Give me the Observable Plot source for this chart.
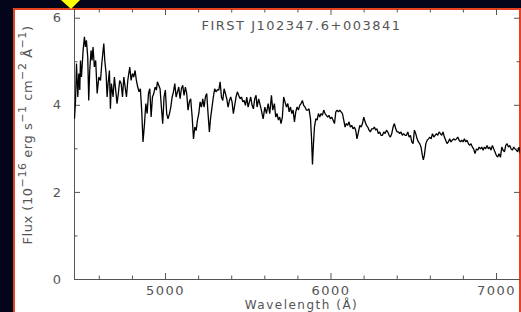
<!DOCTYPE html>
<html><head><meta charset="utf-8">
<script src="https://cdn.jsdelivr.net/npm/d3@7"></script>
<script src="https://cdn.jsdelivr.net/npm/@observablehq/plot@0.6"></script>
<style>
html,body{margin:0;padding:0;background:#04041a;}
#wrap{position:relative;width:521px;height:312px;overflow:hidden;background:#04041a;}
#panel{position:absolute;left:13px;top:8px;width:508px;height:310px;box-sizing:border-box;background:#fff;border:2px solid #e8411f;border-bottom:none;}
#chart{position:absolute;left:0;top:0;}
#marker{position:absolute;left:61px;top:0;width:0;height:0;border-left:10px solid transparent;border-right:9px solid transparent;border-top:9px solid #ffff00;}
</style></head>
<body>
<div id="wrap"><div id="panel"></div><div id="chart"></div><div id="marker"></div></div>
<script>
const title = "FIRST J102347.6+003841";
const xLabel = "Wavelength (Å)";
const xMajor = [5000, 6000, 7000];
const xMinor = [4600, 4800, 5200, 5400, 5600, 5800, 6200, 6400, 6600, 6800];
const yMajor = [0, 2, 4, 6];
const yMinor = [1, 3, 5];
const xDomain = [4450, 7145];
const yDomain = [0, 6.2];
// [wavelength (Å), flux (1e-16 erg/s/cm2/Å)]
const spectrum = [
[4450,3.70],[4456,4.08],[4462,4.96],[4470,4.19],[4476,4.73],[4482,4.35],[4486,5.03],[4492,4.65],[4502,5.26],[4510,5.57],
[4516,5.34],[4522,5.49],[4530,5.11],[4536,4.11],[4542,4.80],[4550,5.26],[4556,5.03],[4562,5.34],[4570,4.88],[4578,5.03],
[4587,4.27],[4597,4.65],[4607,4.57],[4615,4.96],[4621,5.19],[4627,5.42],[4633,5.03],[4641,4.73],[4647,4.19],[4653,4.50],
[4661,4.80],[4667,3.92],[4673,4.50],[4683,4.19],[4691,4.65],[4699,4.35],[4707,4.04],[4715,4.27],[4723,4.57],[4732,4.50],
[4740,4.19],[4748,4.65],[4756,4.42],[4764,4.19],[4772,4.57],[4778,4.73],[4784,4.88],[4792,4.57],[4800,4.73],[4808,4.65],
[4816,4.80],[4824,4.57],[4832,4.42],[4840,4.31],[4848,4.38],[4856,3.89],[4864,3.16],[4873,3.58],[4881,4.04],[4889,3.81],
[4897,4.27],[4905,4.38],[4913,3.73],[4921,4.19],[4929,4.27],[4937,4.42],[4945,4.35],[4951,4.54],[4959,4.46],[4967,4.38],
[4975,3.96],[4983,3.58],[4991,4.19],[4999,4.35],[5007,3.81],[5015,3.69],[5024,3.81],[5032,3.96],[5040,4.19],[5048,4.31],
[5056,4.50],[5064,4.19],[5072,4.31],[5080,4.42],[5088,4.15],[5096,4.38],[5104,4.46],[5112,4.23],[5120,4.42],[5128,4.27],
[5136,3.89],[5144,4.08],[5152,4.15],[5161,3.73],[5169,3.23],[5177,3.50],[5185,3.42],[5193,3.66],[5201,3.81],[5209,4.08],
[5217,3.96],[5225,4.15],[5233,3.96],[5241,4.19],[5249,4.27],[5257,3.81],[5265,3.39],[5273,3.73],[5281,3.96],[5289,4.19],
[5297,4.38],[5305,4.31],[5314,4.36],[5322,4.35],[5330,4.54],[5338,4.19],[5346,4.11],[5354,4.38],[5362,4.27],[5370,4.15],
[5378,3.96],[5386,4.11],[5394,4.19],[5402,4.08],[5410,3.81],[5418,4.00],[5426,4.19],[5434,4.31],[5442,4.23],[5451,4.15],
[5459,4.19],[5467,4.08],[5475,4.11],[5483,4.00],[5491,4.19],[5499,3.96],[5507,4.08],[5515,4.19],[5523,4.00],[5531,3.92],
[5539,4.15],[5547,4.23],[5553,3.96],[5563,4.15],[5579,3.89],[5590,3.69],[5600,3.96],[5610,3.81],[5620,4.04],[5630,3.81],
[5640,4.23],[5648,3.89],[5658,4.04],[5666,3.73],[5674,3.81],[5682,3.66],[5690,3.73],[5698,3.58],[5706,3.73],[5714,4.19],
[5722,4.08],[5731,3.96],[5739,4.04],[5747,3.85],[5755,3.96],[5763,3.81],[5771,3.89],[5779,3.62],[5787,3.85],[5795,3.96],
[5803,3.89],[5811,4.00],[5819,4.04],[5827,4.11],[5835,4.00],[5843,3.96],[5851,3.89],[5859,3.89],[5867,3.92],[5876,3.69],
[5882,3.27],[5888,2.64],[5894,3.12],[5900,3.50],[5908,3.69],[5916,3.66],[5924,3.81],[5932,3.73],[5940,3.81],[5948,3.77],
[5956,3.89],[5964,3.81],[5972,3.77],[5980,3.73],[5988,3.77],[5996,3.69],[6004,3.73],[6012,3.66],[6021,3.58],[6029,3.85],
[6037,3.89],[6045,3.85],[6053,3.89],[6061,3.85],[6069,3.81],[6077,3.66],[6085,3.50],[6093,3.58],[6101,3.54],[6109,3.62],
[6117,3.50],[6125,3.54],[6133,3.46],[6141,3.50],[6149,3.43],[6157,3.23],[6166,3.39],[6174,3.54],[6182,3.50],[6190,3.58],
[6198,3.73],[6206,3.62],[6214,3.54],[6222,3.50],[6230,3.43],[6238,3.39],[6246,3.46],[6254,3.46],[6262,3.50],[6270,3.43],
[6278,3.46],[6286,3.35],[6294,3.39],[6302,3.31],[6311,3.31],[6319,3.39],[6327,3.35],[6335,3.43],[6343,3.39],[6351,3.31],
[6359,3.27],[6367,3.35],[6375,3.50],[6383,3.58],[6391,3.46],[6399,3.39],[6407,3.39],[6415,3.35],[6423,3.39],[6431,3.31],
[6439,3.35],[6448,3.31],[6456,3.31],[6464,3.39],[6472,3.27],[6480,3.31],[6488,3.16],[6496,3.12],[6504,3.43],[6512,3.35],
[6520,3.23],[6528,3.16],[6536,3.12],[6544,3.04],[6552,2.85],[6558,2.75],[6564,2.85],[6573,3.12],[6581,3.20],[6589,3.23],
[6597,3.27],[6605,3.23],[6613,3.35],[6621,3.27],[6629,3.31],[6637,3.35],[6645,3.31],[6653,3.39],[6661,3.35],[6669,3.31],
[6677,3.39],[6685,3.27],[6693,3.20],[6701,3.12],[6709,3.16],[6717,3.23],[6725,3.16],[6733,3.20],[6742,3.23],[6750,3.20],
[6758,3.23],[6766,3.27],[6774,3.20],[6782,3.16],[6790,3.20],[6798,3.16],[6806,3.23],[6814,3.16],[6822,3.20],[6830,3.12],
[6838,3.08],[6846,3.12],[6854,3.04],[6862,3.00],[6870,2.89],[6879,3.00],[6887,2.97],[6895,3.04],[6903,3.00],[6911,3.04],
[6919,2.97],[6927,3.04],[6935,3.00],[6943,3.08],[6951,3.00],[6959,3.04],[6967,2.97],[6975,3.08],[6983,3.00],[6991,2.93],
[6999,2.85],[7007,2.81],[7015,2.89],[7024,2.81],[7032,3.04],[7040,2.97],[7048,2.93],[7056,3.08],[7064,3.12],[7072,3.04],
[7080,3.08],[7088,3.00],[7096,2.97],[7104,3.04],[7112,3.00],[7120,2.97],[7128,2.93],[7136,3.04],[7144,2.89],[7150,2.97]
];

const W = 521, H = 312, mL = 74, mR = 1, mT = 9, mB = 33;
const iw = W - mL - mR, ih = H - mT - mB;
const axisColor = "#555";
const majorLen = 6, minorLen = 3.5;

const svg = Plot.plot({
  width: W, height: H,
  marginLeft: mL, marginRight: mR, marginTop: mT, marginBottom: mB,
  style: {background: "transparent", fontFamily: "'DejaVu Sans', sans-serif", fontSize: "13px", color: "#555", overflow: "visible"},
  x: {domain: xDomain, axis: null},
  y: {domain: yDomain, axis: null},
  marks: [
    Plot.ruleX([xDomain[0]], {stroke: axisColor}),
    Plot.ruleY([yDomain[0]], {stroke: axisColor}),
    Plot.ruleX(xMajor, {stroke: axisColor, insetTop: ih - majorLen}),
    Plot.ruleX(xMinor, {stroke: axisColor, insetTop: ih - minorLen}),
    Plot.ruleX(xMajor, {stroke: axisColor, insetBottom: ih - majorLen}),
    Plot.ruleX(xMinor, {stroke: axisColor, insetBottom: ih - minorLen}),
    Plot.ruleY(yMajor, {stroke: axisColor, insetRight: iw - majorLen}),
    Plot.ruleY(yMinor, {stroke: axisColor, insetRight: iw - minorLen}),
    Plot.ruleY(yMajor, {stroke: axisColor, insetLeft: iw - majorLen}),
    Plot.ruleY(yMinor, {stroke: axisColor, insetLeft: iw - minorLen}),
    Plot.line(spectrum, {x: d => d[0], y: d => d[1], stroke: "#000", strokeWidth: 1.3, strokeLinejoin: "miter", clip: true}),
    Plot.text(xMajor, {x: d => d, text: d => String(d), frameAnchor: "bottom", lineAnchor: "top", dy: 6, fill: "#555"}),
    Plot.text(yMajor, {y: d => d, text: d => String(d), frameAnchor: "left", textAnchor: "end", dx: -12, fill: "#555"}),
    Plot.text([title], {text: d => d, frameAnchor: "top", lineAnchor: "top", dy: 11, dx: 4, fill: "#555"}),
    Plot.text([xLabel], {text: d => d, frameAnchor: "bottom", lineAnchor: "top", dy: 21, dx: 4, fill: "#555", fontSize: 12})
  ]
});
svg.style.letterSpacing = "1.5px";
document.getElementById("chart").appendChild(svg);

// rotated y-axis label with superscripts
const yl = d3.select(svg).append("text")
  .attr("transform", "translate(32,135) rotate(-90)")
  .attr("text-anchor", "middle")
  .attr("fill", "#555")
  .style("font-size", "13px")
  .style("letter-spacing", "0.55px");
const parts = [
  ["Flux (10", 0, 13], ["\u221216", -6, 11], [" erg s", 6, 13], ["\u22121", -6, 11],
  [" cm", 6, 13], ["\u22122", -6, 11], [" \u00C5", 6, 13], ["\u22121", -6, 11], [")", 6, 13]
];
parts.forEach(([t, dy, fs]) => {
  yl.append("tspan").attr("dy", dy).style("font-size", fs + "px").text(t);
});
</script>
</body></html>
